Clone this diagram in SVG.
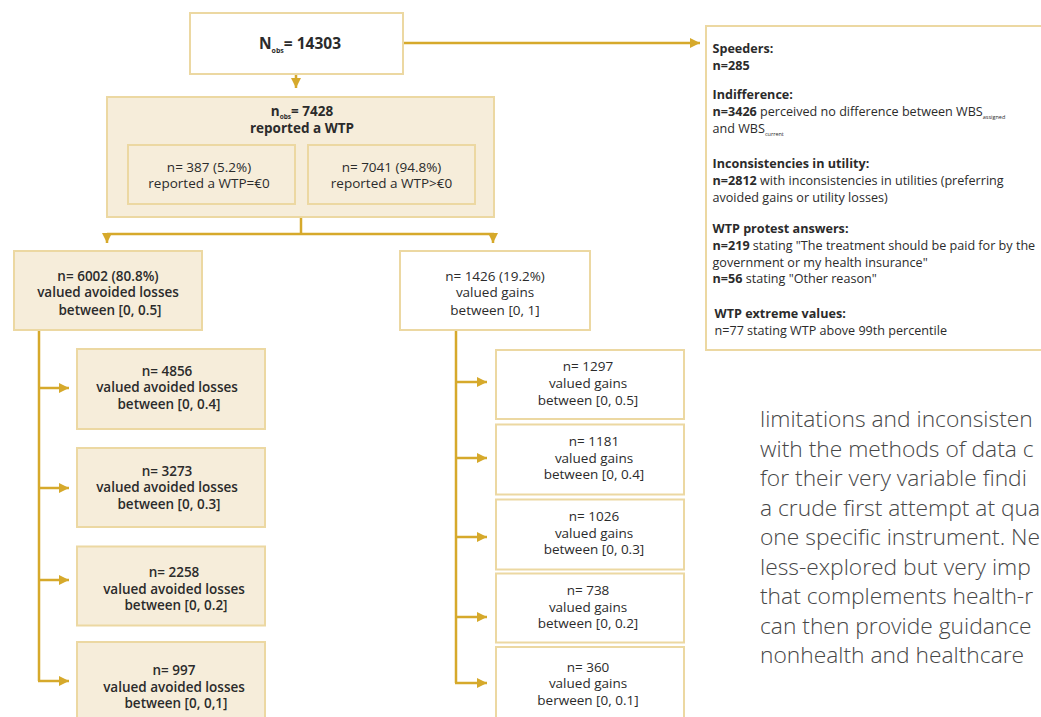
<svg xmlns="http://www.w3.org/2000/svg" width="1041" height="717" viewBox="0 0 1041 717">
<defs>
<marker id="ah" viewBox="0 0 10 10" refX="10" refY="5" markerWidth="10" markerHeight="10" markerUnits="userSpaceOnUse" orient="auto">
<path d="M0,0 L10,5 L0,10 z" fill="#d6a92b"/>
</marker>
<style>
.box{stroke:#ecd8a2;stroke-width:2}
.w{fill:#ffffff}
.b{fill:#f6edda}
.c{fill:none;stroke:#d6a92b;stroke-width:2.5}
text{font-family:"Open Sans","DejaVu Sans",sans-serif;fill:#2b2b2b}
.t{font-size:13.5px;text-anchor:middle}
.sb{font-weight:600}
.bd{font-weight:700}
.r{font-size:12.6px}
.body{font-family:"Open Sans","DejaVu Sans",sans-serif;font-size:22.8px;font-weight:300;fill:#474747}
</style>
</defs>
<rect width="1041" height="717" fill="#ffffff"/>

<g id="connectors">
<path class="c" d="M403,43 H700" marker-end="url(#ah)"/>
<path class="c" d="M296,74 V88" marker-end="url(#ah)"/>
<path class="c" d="M301,217 V234"/>
<path class="c" d="M107,234 H494"/>
<path class="c" d="M107,233 V243" marker-end="url(#ah)"/>
<path class="c" d="M493,233 V243" marker-end="url(#ah)"/>
<path class="c" d="M39,330 V681"/>
<path class="c" d="M38,388 H69" marker-end="url(#ah)"/>
<path class="c" d="M38,488 H69" marker-end="url(#ah)"/>
<path class="c" d="M38,580 H69" marker-end="url(#ah)"/>
<path class="c" d="M38,681 H69" marker-end="url(#ah)"/>
<path class="c" d="M456,330 V683"/>
<path class="c" d="M455,382 H487" marker-end="url(#ah)"/>
<path class="c" d="M455,458 H487" marker-end="url(#ah)"/>
<path class="c" d="M455,537 H487" marker-end="url(#ah)"/>
<path class="c" d="M455,617 H487" marker-end="url(#ah)"/>
<path class="c" d="M455,683 H487" marker-end="url(#ah)"/>
</g>

<g id="n-total">
<rect class="box w" x="190" y="13" width="213" height="61"/>
<text x="300" y="49" text-anchor="middle" font-size="15.5" font-weight="700">N<tspan font-size="7" dy="4">obs</tspan><tspan dy="-4">= 14303</tspan></text>
</g>

<g id="n-excluded">
<rect class="box w" x="706" y="26" width="345" height="324"/>
<text class="r bd" x="712.5" y="52.5">Speeders:</text>
<text class="r bd" x="712.5" y="69.5">n=285</text>
<text class="r bd" x="712.5" y="99">Indifference:</text>
<text class="r" x="712.5" y="116"><tspan font-weight="700">n=3426</tspan> perceived no difference between WBS<tspan font-size="5.5" dy="2.5">assigned</tspan></text>
<text class="r" x="712.5" y="133">and WBS<tspan font-size="5.5" dy="2.5">current</tspan></text>
<text class="r bd" x="712.5" y="167.5">Inconsistencies in utility:</text>
<text class="r" x="712.5" y="184.5"><tspan font-weight="700">n=2812</tspan> with inconsistencies in utilities (preferring</text>
<text class="r" x="712.5" y="201.5">avoided gains or utility losses)</text>
<text class="r bd" x="712.5" y="233">WTP protest answers:</text>
<text class="r" x="712.5" y="250"><tspan font-weight="700">n=219</tspan> stating "The treatment should be paid for by the</text>
<text class="r" x="712.5" y="266.5">government or my health insurance"</text>
<text class="r" x="712.5" y="283"><tspan font-weight="700">n=56</tspan> stating "Other reason"</text>
<text class="r bd" x="714.5" y="317.5">WTP extreme values:</text>
<text class="r" x="714.5" y="334.5">n=77 stating WTP above 99th percentile</text>
</g>

<g id="n-wtp">
<rect class="box b" x="107" y="97" width="387" height="120"/>
<text class="t bd" x="302" y="116" font-size="14">n<tspan font-size="6.5" dy="3">obs</tspan><tspan dy="-3">= 7428</tspan></text>
<text class="t bd" x="302" y="133" font-size="14">reported a WTP</text>
</g>

<g id="n-wtp0">
<rect class="box b" x="128" y="145" width="167" height="59"/>
<text class="t" x="209" y="172">n= 387 (5.2%)</text>
<text class="t" x="209" y="188">reported a WTP=€0</text>
</g>

<g id="n-wtppos">
<rect class="box b" x="308" y="145" width="167" height="59"/>
<text class="t" x="391.5" y="172">n= 7041 (94.8%)</text>
<text class="t" x="391.5" y="188">reported a WTP&gt;€0</text>
</g>

<g id="n-losses">
<rect class="box b" x="14" y="251" width="188" height="79"/>
<text class="t sb" x="108" y="280.5">n= 6002 (80.8%)</text>
<text class="t sb" x="108" y="297">valued avoided losses</text>
<text class="t sb" x="110" y="314.5">between [0, 0.5]</text>
</g>

<g id="n-gains">
<rect class="box w" x="400" y="251" width="190" height="79"/>
<text class="t" x="495" y="280.5">n= 1426 (19.2%)</text>
<text class="t" x="495" y="297">valued gains</text>
<text class="t" x="495" y="314.5">between [0, 1]</text>
</g>

<g id="n-l04">
<rect class="box b" x="77" y="349" width="188" height="80"/>
<text class="t sb" x="167" y="375.5">n= 4856</text>
<text class="t sb" x="167" y="392">valued avoided losses</text>
<text class="t sb" x="169" y="408.5">between [0, 0.4]</text>
</g>

<g id="n-l03">
<rect class="box b" x="77" y="448" width="188" height="79"/>
<text class="t sb" x="167" y="475.5">n= 3273</text>
<text class="t sb" x="167" y="492">valued avoided losses</text>
<text class="t sb" x="169" y="508.5">between [0, 0.3]</text>
</g>

<g id="n-l02">
<rect class="box b" x="77" y="546.5" width="188" height="79"/>
<text class="t sb" x="174" y="577">n= 2258</text>
<text class="t sb" x="174" y="593.5">valued avoided losses</text>
<text class="t sb" x="176" y="610">between [0, 0.2]</text>
</g>

<g id="n-l01">
<rect class="box b" x="77" y="642" width="188" height="80"/>
<text class="t sb" x="174" y="675">n= 997</text>
<text class="t sb" x="174" y="691.5">valued avoided losses</text>
<text class="t sb" x="176" y="708">between [0, 0,1]</text>
</g>

<g id="n-g05">
<rect class="box w" x="496" y="350" width="188" height="69"/>
<text class="t" x="588" y="370.5">n= 1297</text>
<text class="t" x="588" y="387.5">valued gains</text>
<text class="t" x="588" y="404.5">between [0, 0.5]</text>
</g>

<g id="n-g04">
<rect class="box w" x="496" y="424.5" width="188" height="70"/>
<text class="t" x="594" y="445.5">n= 1181</text>
<text class="t" x="594" y="462.5">valued gains</text>
<text class="t" x="594" y="479">between [0, 0.4]</text>
</g>

<g id="n-g03">
<rect class="box w" x="496" y="499.5" width="188" height="70"/>
<text class="t" x="594" y="520.5">n= 1026</text>
<text class="t" x="594" y="537.5">valued gains</text>
<text class="t" x="594" y="554">between [0, 0.3]</text>
</g>

<g id="n-g02">
<rect class="box w" x="496" y="573.5" width="188" height="69"/>
<text class="t" x="588" y="595">n= 738</text>
<text class="t" x="588" y="611.5">valued gains</text>
<text class="t" x="588" y="628">between [0, 0.2]</text>
</g>

<g id="n-g01">
<rect class="box w" x="496" y="647" width="188" height="75"/>
<text class="t" x="588" y="671.5">n= 360</text>
<text class="t" x="588" y="688">valued gains</text>
<text class="t" x="588" y="704.5">berween [0, 0.1]</text>
</g>

<g id="bodytext">
<text class="body" x="760" y="427">limitations and inconsisten</text>
<text class="body" x="760" y="456.5">with the methods of data c</text>
<text class="body" x="760" y="486">for their very variable findi</text>
<text class="body" x="760" y="515.5">a crude first attempt at qua</text>
<text class="body" x="760" y="545">one specific instrument. Ne</text>
<text class="body" x="760" y="574.5">less-explored but very imp</text>
<text class="body" x="760" y="604">that complements health-r</text>
<text class="body" x="760" y="633.5">can then provide guidance</text>
<text class="body" x="760" y="663">nonhealth and healthcare</text>
</g>
</svg>
